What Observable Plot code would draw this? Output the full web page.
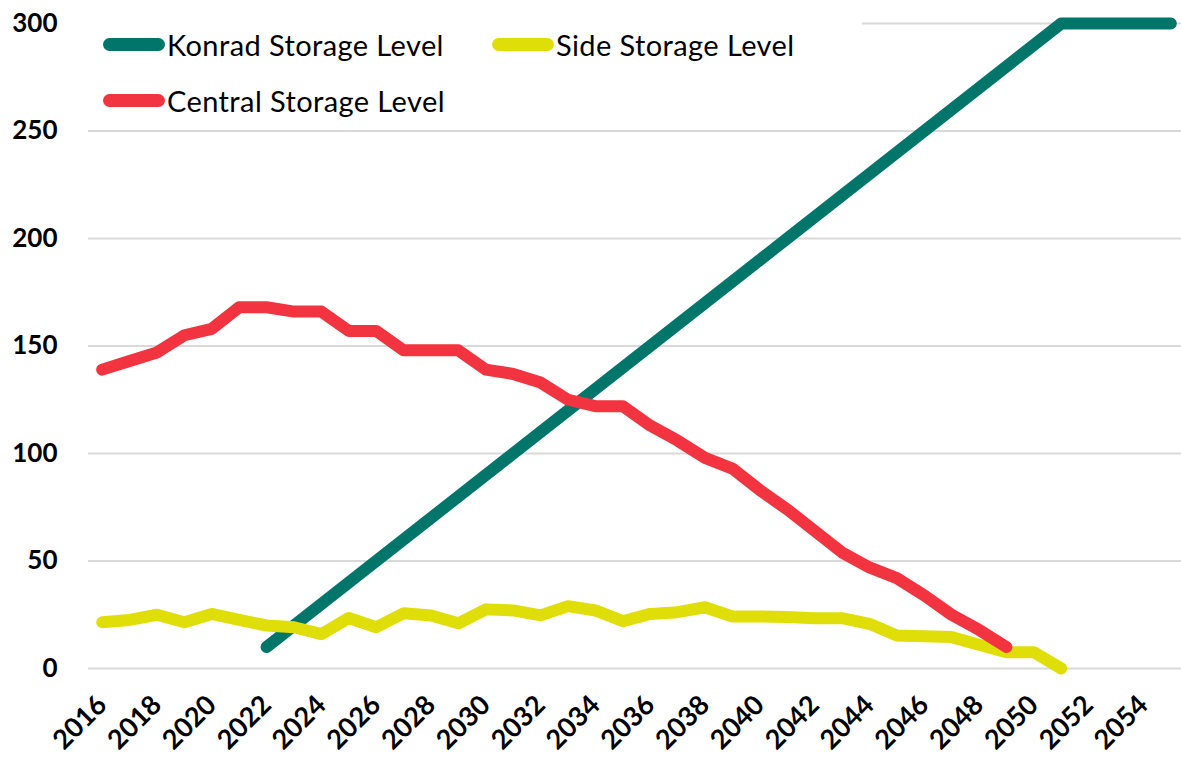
<!DOCTYPE html>
<html><head><meta charset="utf-8">
<script src="https://cdn.jsdelivr.net/npm/d3@7"></script>
<script src="https://cdn.jsdelivr.net/npm/@observablehq/plot@0.6"></script>
<style>
html,body{margin:0;padding:0;background:#fff;overflow:hidden}
#wrap{position:relative;width:1181px;height:759px}
#legend{position:absolute;left:88px;top:4px;width:774px;height:118px;background:#fff;font-family:Lato,"Open Sans",sans-serif;font-size:29px;letter-spacing:0.4px;color:#000}
.item{position:absolute;display:flex;align-items:center;height:40px;white-space:nowrap}
.sw{width:62px;height:13px;border-radius:7px;margin-right:2px}
</style></head><body>
<div id="wrap"><div id="chart"></div><div id="legend"></div></div>
<script>
const years = [2016,2017,2018,2019,2020,2021,2022,2023,2024,2025,2026,2027,2028,2029,2030,2031,2032,2033,2034,2035,2036,2037,2038,2039,2040,2041,2042,2043,2044,2045,2046,2047,2048,2049,2050,2051,2052,2053,2054,2055];
const konrad = [null,null,null,null,null,null,10,20,30,40,50,60,70,80,90,100,110,120,130,140,150,160,170,180,190,200,210,220,230,240,250,260,270,280,290,300,300,300,300,300];
const side = [21.5,22.6,25,21.5,25.4,22.6,20,19.2,16,23.5,19.2,25.7,24.7,21,27.5,27,24.7,29,27,22,25.4,26.2,28.5,24.2,24.2,24,23.4,23.4,20.8,15.3,15,14.6,11,7.6,7.6,0,null,null,null,null];
const central = [139,143,147,155,158,168,168,166,166,157,157,148,148,148,139,137,133,125,122,122,113,106,98,93,83,74,64,54,47,42,34,25,18,10,null,null,null,null,null,null];
const seriesNames = ["Konrad Storage Level","Side Storage Level","Central Storage Level"];
const seriesColors = ["#00766A","#E0DE08","#F23440"];
const yTicks = [0,50,100,150,200,250,300];
const xTicks = [2016,2018,2020,2022,2024,2026,2028,2030,2032,2034,2036,2038,2040,2042,2044,2046,2048,2050,2052,2054];

const seriesValues = [konrad, side, central];
const rows = [];
seriesNames.forEach((name, i) => {
  years.forEach((yr, j) => {
    const v = seriesValues[i][j];
    if (v !== null) rows.push({year: yr, value: v, series: name});
  });
});

const chart = Plot.plot({
  width: 1181,
  height: 759,
  marginLeft: 88,
  marginRight: 0,
  marginTop: 23,
  marginBottom: 91,
  style: {fontFamily: "Lato, 'Open Sans', sans-serif", background: "#fff"},
  x: {type: "linear", domain: [2015.5, 2055.39]},
  y: {domain: [0, 300]},
  color: {domain: seriesNames, range: seriesColors},
  marks: [
    Plot.gridY(yTicks, {stroke: "#d9d9d9", strokeOpacity: 1, strokeWidth: 2}),
    Plot.axisY({ticks: yTicks, tickSize: 0, tickPadding: 31, fontSize: 26, fontWeight: "bold", label: null, tickFormat: d => String(d)}),
    Plot.axisX({ticks: xTicks, tickSize: 0, tickPadding: 32, tickRotate: -45, fontSize: 27, fontWeight: "bold", label: null, tickFormat: d => String(d)}),
    Plot.line(rows, {x: "year", y: "value", z: "series", stroke: "series", strokeWidth: 12, strokeLinecap: "round", strokeLinejoin: "round"})
  ]
});
document.getElementById("chart").appendChild(chart);

const legend = document.getElementById("legend");
const legendSpots = [[15, 20], [404, 20], [15, 76]];
seriesNames.forEach((name, i) => {
  const it = document.createElement("div");
  it.className = "item";
  it.style.left = legendSpots[i][0] + "px";
  it.style.top = legendSpots[i][1] + "px";
  const sw = document.createElement("span");
  sw.className = "sw";
  sw.style.background = seriesColors[i];
  const tx = document.createElement("span");
  tx.textContent = name;
  it.appendChild(sw); it.appendChild(tx);
  legend.appendChild(it);
});
</script>
</body></html>
